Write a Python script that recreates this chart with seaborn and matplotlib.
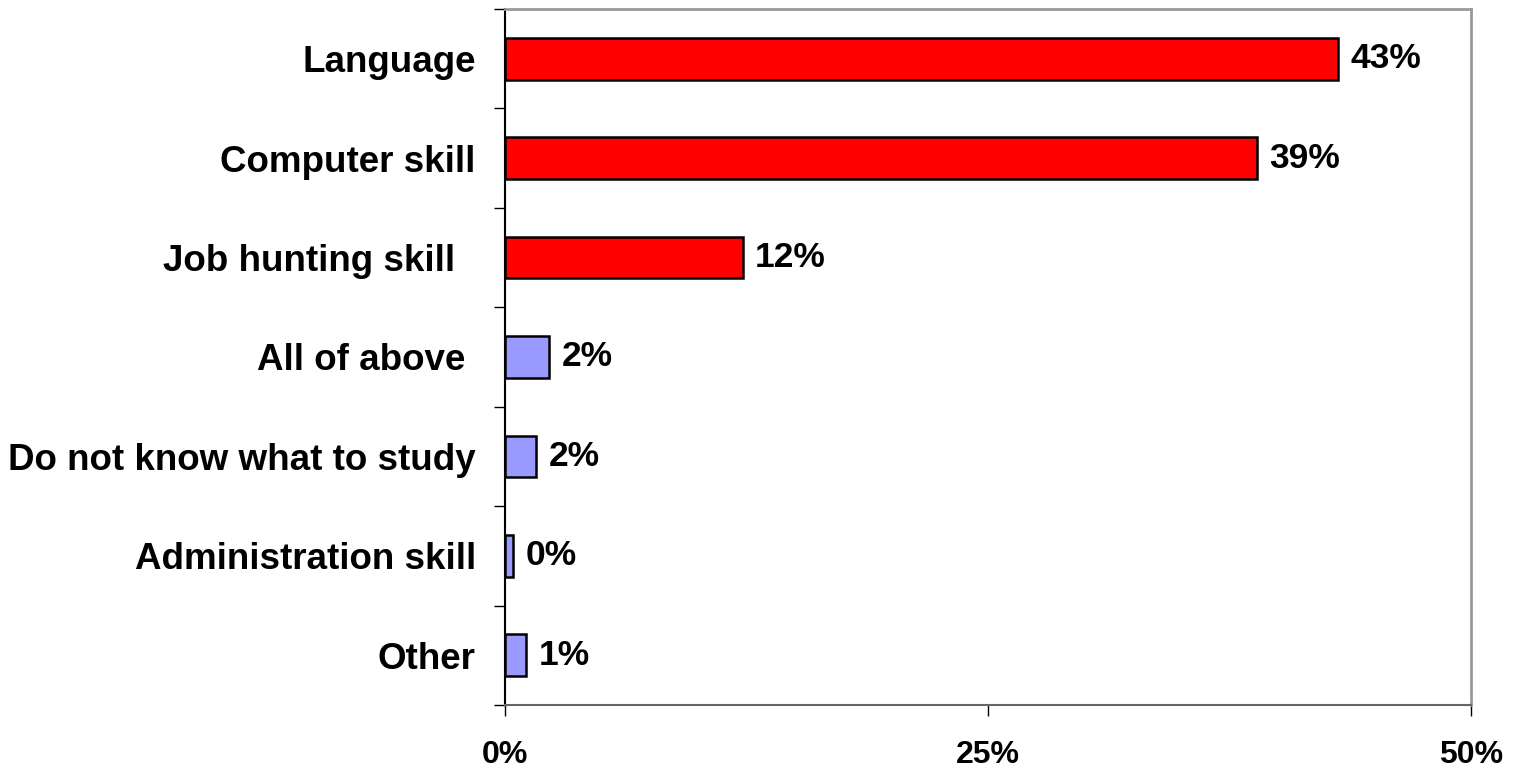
import matplotlib
matplotlib.use("Agg")
import matplotlib.pyplot as plt
import seaborn as sns
import numpy as np

categories = ["Language", "Computer skill", "Job hunting skill  ", "All of above ",
              "Do not know what to study", "Administration skill", "Other"]
values = [43.1, 38.9, 12.3, 2.3, 1.6, 0.4, 1.1]
value_labels = ["43%", "39%", "12%", "2%", "2%", "0%", "1%"]
bar_colors = ["#FF0000", "#FF0000", "#FF0000", "#9999FF", "#9999FF", "#9999FF", "#9999FF"]
x_ticks = [0, 25, 50]
x_tick_labels = ["0%", "25%", "50%"]

sns.set_theme(style="white")
plt.rcParams["font.family"] = ["Liberation Sans", "DejaVu Sans"]
plt.rcParams["text.color"] = "black"
plt.rcParams["xtick.color"] = "black"
plt.rcParams["ytick.color"] = "black"

fig = plt.figure(figsize=(15.17, 7.76), dpi=100)
ax = fig.add_axes([505 / 1517, 1 - 705 / 776, (1471 - 505) / 1517, (705 - 9) / 776])

sns.barplot(x=values, y=categories, hue=categories, palette=bar_colors, legend=False,
            orient="h", width=0.42, saturation=1, edgecolor="black", linewidth=1.8, ax=ax)

ax.set_xlim(0, 50)
ax.set_ylim(len(categories) - 0.5, -0.5)
ax.set_xticks(x_ticks)
ax.set_xticklabels(x_tick_labels, fontsize=23, fontweight="bold", color="black")
ax.set_yticks(np.arange(len(categories)))
ax.set_yticklabels(categories, fontsize=26.5, fontweight="bold", color="black")
ax.set_xlabel("")
ax.set_ylabel("")

# category separators as minor ticks on the left axis
ax.set_yticks(np.arange(-0.5, len(categories), 1.0), minor=True)
ax.tick_params(axis="y", which="major", length=0, pad=21)
ax.tick_params(axis="y", which="minor", length=8, width=1, color="black", left=True)
ax.tick_params(axis="x", which="major", length=8, width=1, color="black", pad=17, bottom=True)

for i, (v, lab) in enumerate(zip(values, value_labels)):
    ax.text(v + 0.65, i, lab, va="center", ha="left", fontsize=25.5,
            fontweight="bold", color="black")

ax.spines["left"].set_color("black")
ax.spines["left"].set_linewidth(1.5)
ax.spines["bottom"].set_color("#666666")
ax.spines["bottom"].set_linewidth(1.5)
for s in ("top", "right"):
    ax.spines[s].set_color("#999999")
    ax.spines[s].set_linewidth(2)
ax.grid(False)

fig.savefig("out.png", dpi=100, facecolor="white")
